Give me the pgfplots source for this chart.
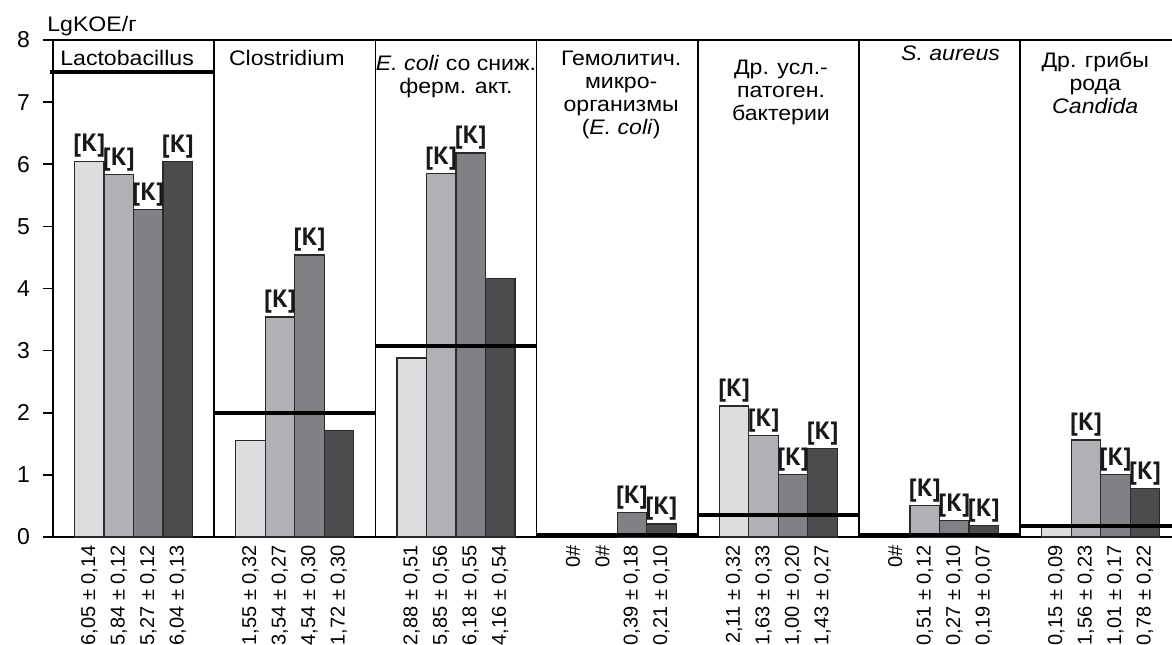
\documentclass[border=0pt]{standalone}
\usepackage{fontspec}
\setmainfont{Liberation Sans}[FakeStretch=1.1]
\newfontfamily\lblfont{Liberation Sans}
\newfontfamily\kfont{PT Sans}
\newfontfamily\seriffont{Liberation Serif}
\usepackage{pgfplots}
\pgfplotsset{compat=1.18}
\definecolor{cA}{HTML}{DCDDDF}
\definecolor{cB}{HTML}{B0B1B4}
\definecolor{cC}{HTML}{808185}
\definecolor{cD}{HTML}{4B4C4E}
\definecolor{edge}{HTML}{2A2A2A}
\begin{document}
\begin{tikzpicture}
\path[use as bounding box] (-26.5pt,-53.5pt) rectangle (559.5pt,268.5pt);
\begin{axis}[
  at={(0,0)}, anchor=south west,
  scale only axis, width=559.5pt, height=248.5pt,
  xmin=0, xmax=6.942, ymin=0, ymax=8,
  axis x line*=box, axis y line*=left,
  axis line style={line width=0.8pt, black},
  ytick={0,1,2,3,4,5,6,7,8}, tick align=outside, major tick length=5pt,
  ytick pos=left,
  y tick style={line width=0.8pt, black},
  yticklabel style={font=\lblfont\fontsize{11.5}{13}\selectfont, xshift=-3pt},
  /pgf/number format/assume math mode=true,
  xtick={0.2255,0.4085,0.5915,0.7745,1.2255,1.4085,1.5915,1.7745,2.2255,2.4085,2.5915,2.7745,3.2255,3.4085,3.5915,3.7745,4.2255,4.4085,4.5915,4.7745,5.2255,5.4085,5.5915,5.7745,6.2255,6.4085,6.5915,6.7745},
  xticklabels={{6,05 ± 0,14},{5,84 ± 0,12},{5,27 ± 0,12},{6,04 ± 0,13},
    {1,55 ± 0,32},{3,54 ± 0,27},{4,54 ± 0,30},{1,72 ± 0,30},
    {2,88 ± 0,51},{5,85 ± 0,56},{6,18 ± 0,55},{4,16 ± 0,54},
    {0\#},{0\#},{0,39 ± 0,18},{0,21 ± 0,10},
    {2,11 ± 0,32},{1,63 ± 0,33},{1,00 ± 0,20},{1,43 ± 0,27},
    {0\#},{0,51 ± 0,12},{0,27 ± 0,10},{0,19 ± 0,07},
    {0,15 ± 0,09},{1,56 ± 0,23},{1,01 ± 0,17},{0,78 ± 0,22}},
  x tick style={draw=none},
  xticklabel pos=lower,
  xticklabel shift=-2pt,
  xticklabel style={rotate=90, anchor=east, inner sep=1pt, font=\lblfont\fontsize{10}{11}\selectfont},
  extra x ticks={1,2,3,4,5,6},
  extra x tick labels={},
  extra x tick style={grid=major, major grid style={black, line width=0.8pt}},
  clip=false,
]
\addplot[ybar, bar width=0.183, bar shift=0pt, fill=cA, draw=edge, line width=0.6pt]
  coordinates {(0.2255,6.05) (1.2255,1.55) (2.2255,2.88) (4.2255,2.11) (6.2255,0.15)};
\addplot[ybar, bar width=0.183, bar shift=0pt, fill=cB, draw=edge, line width=0.6pt]
  coordinates {(0.4085,5.84) (1.4085,3.54) (2.4085,5.85) (4.4085,1.63) (5.4085,0.51) (6.4085,1.56)};
\addplot[ybar, bar width=0.183, bar shift=0pt, fill=cC, draw=edge, line width=0.6pt]
  coordinates {(0.5915,5.27) (1.5915,4.54) (2.5915,6.18) (3.5915,0.39) (4.5915,1.00) (5.5915,0.27) (6.5915,1.01)};
\addplot[ybar, bar width=0.183, bar shift=0pt, fill=cD, draw=edge, line width=0.6pt]
  coordinates {(0.7745,6.04) (1.7745,1.72) (2.7745,4.16) (3.7745,0.21) (4.7745,1.43) (5.7745,0.19) (6.7745,0.78)};
% reference lines
\addplot[black, line width=2pt] coordinates {(-0.02,7.48) (1,7.48)};
\addplot[black, line width=2pt] coordinates {(1,2.0) (2,2.0)};
\addplot[black, line width=2pt] coordinates {(2,3.08) (3,3.08)};
\addplot[black, line width=2pt] coordinates {(3,0.035) (4,0.035)};
\addplot[black, line width=2pt] coordinates {(4,0.35) (5,0.35)};
\addplot[black, line width=2pt] coordinates {(5,0.035) (6,0.035)};
\addplot[black, line width=2pt] coordinates {(6,0.185) (6.942,0.185)};
% [K] markers
\addplot[draw=none, mark=none, nodes near coords={\kfont\bfseries [K]},
  nodes near coords style={anchor=south, inner sep=1.5pt, font=\fontsize{12.5}{14}\selectfont, text=black!90}]
  coordinates {(0.2255,6.05) (0.4085,5.84) (0.5915,5.27) (0.7745,6.04)
    (1.4085,3.54) (1.5915,4.54) (2.4085,5.85) (2.5915,6.18)
    (3.5915,0.39) (3.7745,0.21)
    (4.2255,2.11) (4.4085,1.63) (4.5915,1.00) (4.7745,1.43)
    (5.4085,0.51) (5.5915,0.27) (5.7745,0.19)
    (6.4085,1.56) (6.5915,1.01) (6.7745,0.78)};
% titles
\tikzset{ttl/.style={anchor=north, align=center, inner sep=0pt, font=\fontsize{10.5}{11.5}\selectfont}}
\node[ttl, xshift=-3.25pt, yshift=-5pt] at (axis cs:0.5,8) {Lactobacillus};
\node[ttl, xshift=-4pt, yshift=-5pt] at (axis cs:1.5,8) {Clostridium};
\node[ttl, yshift=-7.5pt] at (axis cs:2.5,8) {\textit{E. coli} со сниж.\\ферм. акт.};
\node[ttl, xshift=2pt, yshift=-5.5pt] at (axis cs:3.5,8) {Гемолитич.\\микро-\\организмы\\(\textit{E. coli})};
\node[ttl, xshift=1.3pt, yshift=-10pt] at (axis cs:4.5,8) {Др. усл.-\\патоген.\\бактерии};
\node[ttl, xshift=5.5pt, yshift=-2.5pt] at (axis cs:5.5,8) {\textit{S. aureus}};
\node[ttl, xshift=-2.75pt, yshift=-6pt] at (axis cs:6.5,8) {Др. грибы\\рода\\\textit{Candida}};
\node[anchor=base west, inner sep=0pt, font=\fontsize{10.5}{12}\selectfont] at (rel axis cs:0,1) [xshift=-3pt, yshift=4.2pt] {LgKOE/г};
\node[font=\seriffont\fontsize{5.5}{6}\selectfont, text=black!70] at (axis cs:2.80,1.77) {6,0};
\end{axis}
\end{tikzpicture}
\end{document}
